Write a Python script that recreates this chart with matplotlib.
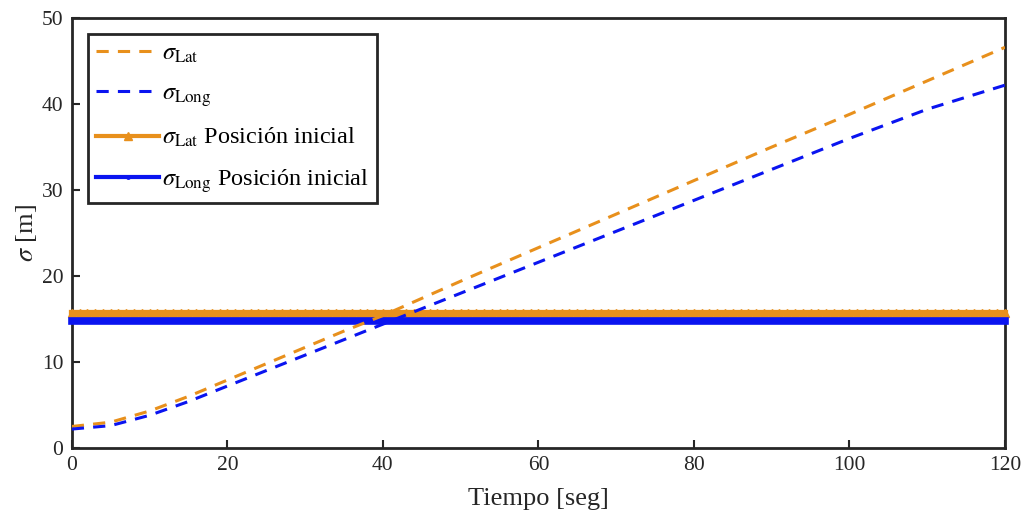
import numpy as np
import matplotlib.pyplot as plt

t = [0, 5, 10, 15, 20, 25, 30, 35, 40, 50, 60, 70, 80, 90, 100, 110, 120]
sigma_lat = [2.5, 3.0, 4.3, 6.0, 7.9, 9.8, 11.7, 13.6, 15.4, 19.4, 23.3, 27.2, 31.1, 35.0, 38.8, 42.7, 46.6]
sigma_long = [2.2, 2.6, 3.8, 5.4, 7.2, 9.0, 10.8, 12.6, 14.4, 18.0, 21.6, 25.2, 28.8, 32.4, 36.0, 39.4, 42.2]

t_init = np.arange(0, 121, 1)
init_lat = 15.7
init_long = 14.8

orange = '#E8901C'
blue = '#0A14F0'

plt.rcParams['font.family'] = ['Liberation Serif', 'DejaVu Serif']
plt.rcParams['mathtext.fontset'] = 'stix'

fig = plt.figure(figsize=(10.26, 5.17), dpi=100)
ax = fig.add_axes([0.070, 0.1335, 0.9095, 0.8315])

ax.plot(t_init, np.full(len(t_init), init_lat), color=orange, lw=4.5,
        marker='^', ms=6, clip_on=False, label=r'$\sigma_{\rm Lat}$ Posición inicial', zorder=3)
ax.plot(t_init, np.full(len(t_init), init_long), color=blue, lw=5.5,
        marker='.', ms=5, clip_on=False, label=r'$\sigma_{\rm Long}$ Posición inicial', zorder=3)
ax.plot(t, sigma_lat, color=orange, lw=2.2, ls=(0, (4, 3)), label=r'$\sigma_{\rm Lat}$', zorder=4)
ax.plot(t, sigma_long, color=blue, lw=2.2, ls=(0, (4, 3)), label=r'$\sigma_{\rm Long}$', zorder=4)

ax.set_xlim(0, 120)
ax.set_ylim(0, 50)
ax.set_xticks(range(0, 121, 20))
ax.set_yticks(range(0, 51, 10))
ax.tick_params(direction='in', length=6, width=1.5, labelsize=15.5, colors='#262626', pad=6)
for s in ax.spines.values():
    s.set_linewidth(2)
    s.set_color('#262626')
ax.set_xlabel('Tiempo [seg]', fontsize=19, color='#262626', labelpad=9)
ax.set_ylabel(r'$\sigma$ [m]', fontsize=19, color='#262626', labelpad=2)

h, l = ax.get_legend_handles_labels()
order = [2, 3, 0, 1]
leg = ax.legend([h[i] for i in order], [l[i] for i in order], loc='upper left',
                fontsize=17.5, fancybox=False, framealpha=1, edgecolor='#262626',
                handlelength=2.6, handletextpad=0.1, borderaxespad=0.65,
                labelspacing=0.72, borderpad=0.35)
leg.get_frame().set_linewidth(2)
for lh in leg.legend_handles[2:]:
    lh.set_linewidth(3)

fig.savefig('out.png', dpi=100)
